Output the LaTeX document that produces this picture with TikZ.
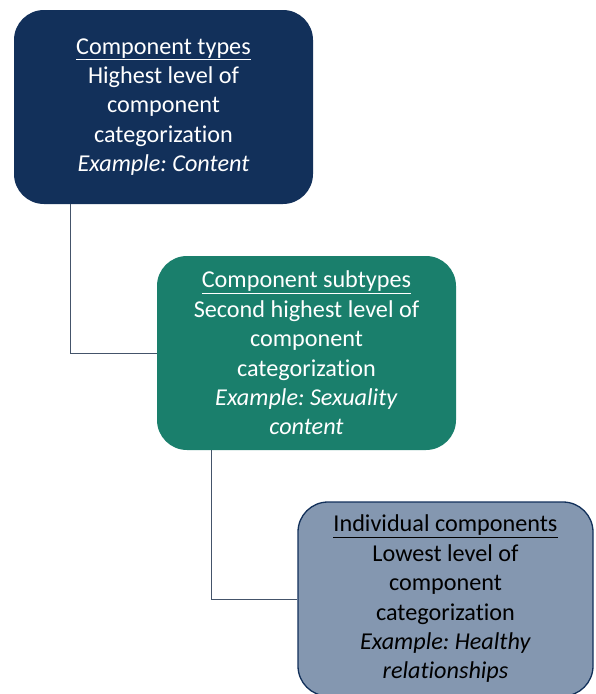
\documentclass[tikz,border=0pt]{standalone}
\usepackage{fontspec}
\setmainfont{Carlito}[Ligatures=NoCommon]
\frenchspacing
\definecolor{navy}{HTML}{12305A}
\definecolor{teal}{HTML}{1A7F6C}
\definecolor{slate}{HTML}{8497B0}
\definecolor{linkgray}{HTML}{44546A}
\tikzset{
  level/.style={rounded corners=30pt, minimum width=299pt, minimum height=194pt,
    align=center, inner sep=0pt,
    font=\fontsize{24.2}{29.4}\selectfont},
  typebox/.style={level, fill=navy, text=white},
  subtypebox/.style={level, fill=teal, text=white},
  itembox/.style={level, minimum width=295pt, fill=slate, draw=navy, line width=1.3pt, text=black},
  link/.style={draw=linkgray, line width=0.9pt}
}
\begin{document}
\begin{tikzpicture}[x=1pt, y=-1pt]
  \useasboundingbox (0,0) rectangle (595,694);
  \node[typebox] at (163.5,107) (types) {\underline{Component types}\\ Highest level of\\ component\\ categorization\\ \textit{Example: Content}};
  \node[subtypebox] at (306.5,353) (subtypes) {\underline{Component subtypes}\\ Second highest level of\\ component\\ categorization\\ \textit{Example: Sexuality}\\ \textit{content}};
  \node[itembox] at (445.5,599) (items) {\underline{Individual components}\\ Lowest level of\\ component\\ categorization\\ \textit{Example: Healthy}\\ \textit{relationships}};
  \draw[link] (types.south west) ++(57,0) |- (subtypes.west);
  \draw[link] (subtypes.south west) ++(55,0) |- (items.west);
\end{tikzpicture}
\end{document}
